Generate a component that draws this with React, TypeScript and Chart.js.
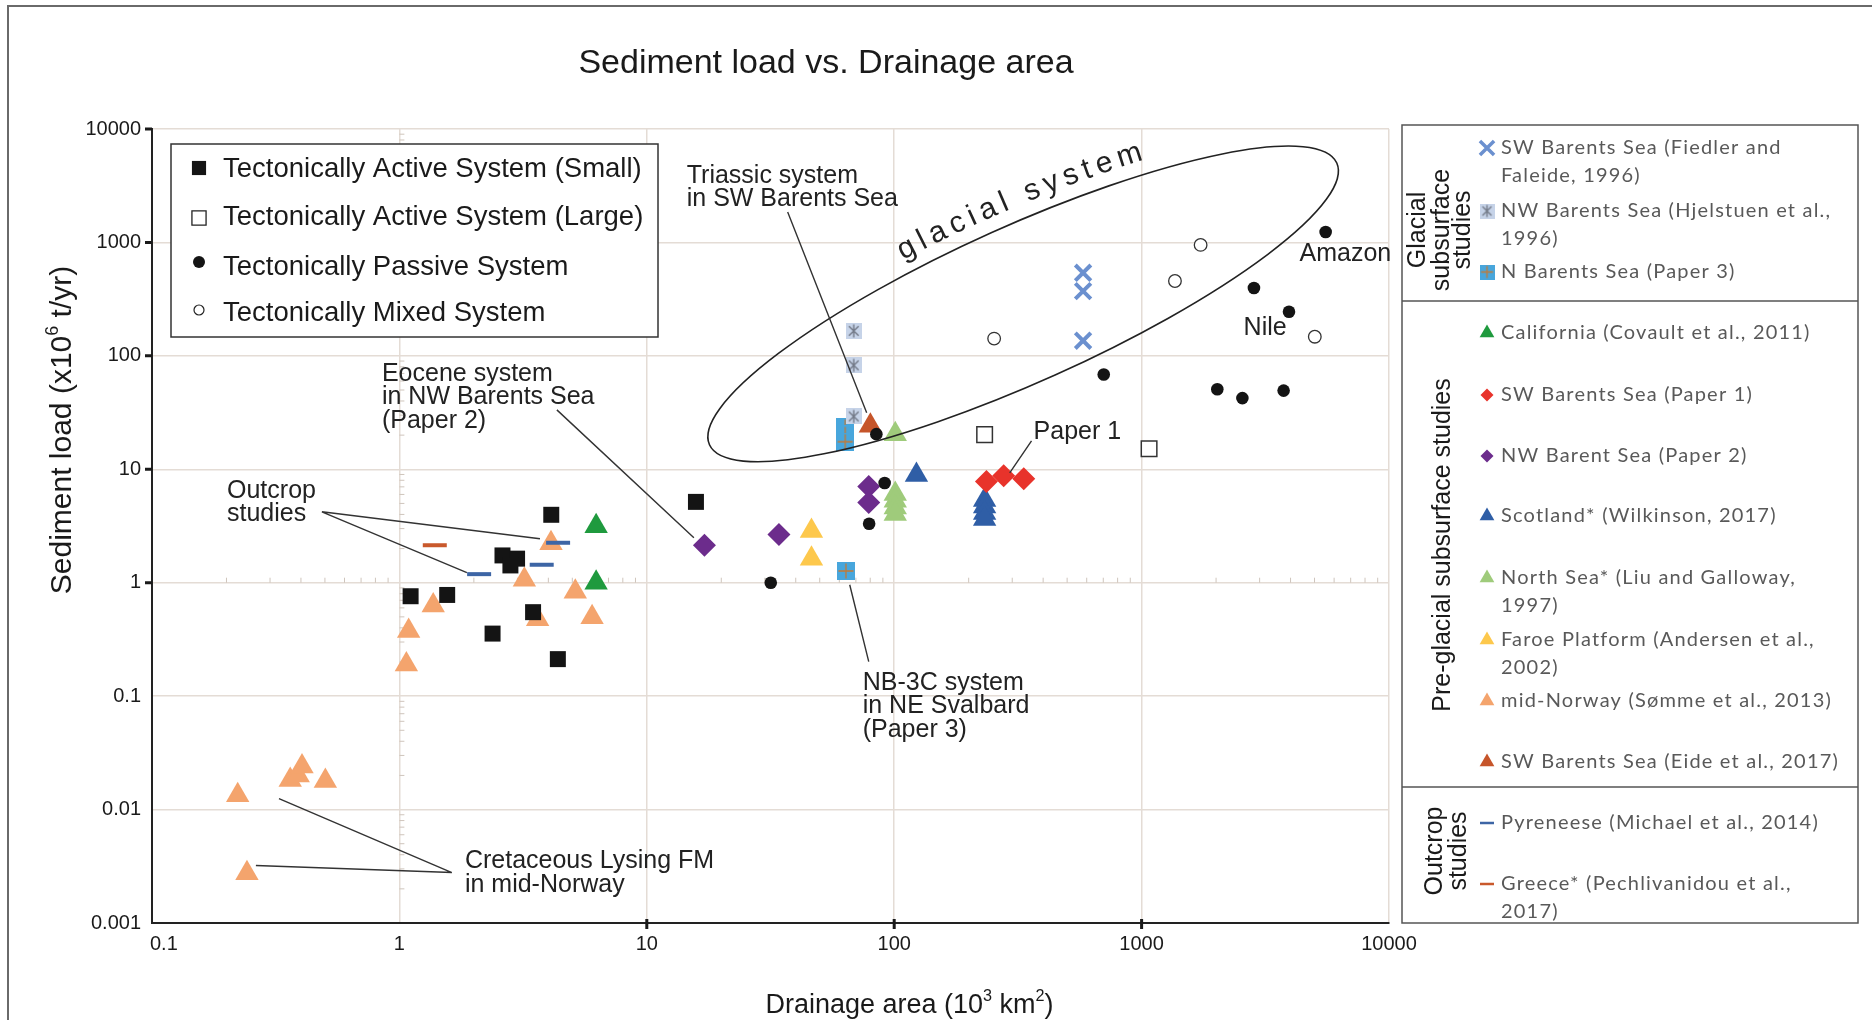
import React, { useEffect, useRef } from 'react';
import { Chart, registerables } from 'chart.js';
import { drawPoint } from 'chart.js/helpers';

Chart.register(...registerables);

type Pt = [number, number];

// ---------------- axis ticks ----------------
const xTickValues = [0.1, 1, 10, 100, 1000, 10000];
const xTickLabels = ['0.1', '1', '10', '100', '1000', '10000'];
const yTickValues = [0.001, 0.01, 0.1, 1, 10, 100, 1000, 10000];
const yTickLabels = ['0.001', '0.01', '0.1', '1', '10', '100', '1000', '10000'];
const xMarkedTicks = [10, 100, 1000];
const yMarkedTicks = [1, 10, 100, 1000, 10000];
const minorSteps = [2, 3, 4, 5, 6, 7, 8, 9];

// ---------------- data (drainage area 10^3 km2, sediment load 10^6 t/yr) ----------------
const activeSmall: Pt[] = [[1.11, 0.76], [1.56, 0.78], [2.61, 1.74], [2.99, 1.63], [2.81, 1.42], [4.11, 3.97], [3.47, 0.55], [2.38, 0.356], [4.37, 0.212], [15.8, 5.16]];
const activeLarge: Pt[] = [[232, 20.2], [1072, 15.2]];
const passive: Pt[] = [[31.7, 1.0], [79.2, 3.31], [91.5, 7.56], [84.7, 20.4], [703, 68.5], [2023, 50.8], [2555, 42.4], [3750, 49.4], [2845, 397], [3942, 245], [5545, 1236]];
const mixed: Pt[] = [[253.5, 142], [1364, 457], [1732, 951], [5013, 147.5]];
const fiedler: Pt[] = [[580, 540], [580, 372], [580, 136]];
const hjelstuen: Pt[] = [[68.6, 166], [68.6, 82.5], [68.6, 29.2]];
const nBarents: Pt[] = [[63.4, 23.6], [63.4, 20.3], [63.4, 17.5], [63.8, 1.27]];
const california: Pt[] = [[6.24, 3.15], [6.24, 1.0]];
const swPaper1: Pt[] = [[236, 7.81], [277, 8.76], [334, 8.25]];
const nwPaper2: Pt[] = [[17.1, 2.14], [34.2, 2.66], [78.9, 7.06], [78.9, 5.1]];
const scotland: Pt[] = [[123, 8.89], [232, 5.35], [232, 4.7], [232, 4.11], [232, 3.64]];
const northSea: Pt[] = [[101, 20.4], [101, 6.05], [101, 5.28], [101, 4.61], [101, 4.03]];
const faroe: Pt[] = [[46.3, 2.85], [46.3, 1.63]];
const midNorway: Pt[] = [[1.09, 0.376], [1.067, 0.19], [1.37, 0.63], [3.2, 1.06], [4.1, 2.23], [3.62, 0.476], [5.14, 0.834], [6.01, 0.496], [0.222, 0.0134], [0.242, 0.00274], [0.362, 0.0182], [0.39, 0.020], [0.404, 0.024], [0.502, 0.0179]];
const eide: Pt[] = [[80.1, 24.2]];
const pyrenees: Pt[] = [[2.1, 1.19], [3.76, 1.44], [4.38, 2.25]];
const greece: Pt[] = [[1.39, 2.14]];

// ---------------- texts ----------------
const chartTitle = 'Sediment load vs. Drainage area';
const xTitleParts = [{ t: 'Drainage area (10' }, { t: '3', sup: true }, { t: ' km' }, { t: '2', sup: true }, { t: ')' }];
const yTitleParts = [{ t: 'Sediment load (x10' }, { t: '6', sup: true }, { t: ' t/yr)' }];

const leftLegendLabels = [
  'Tectonically Active System (Small)',
  'Tectonically Active System (Large)',
  'Tectonically Passive System',
  'Tectonically Mixed System',
];
const leftLegendKeys = ['activeSmall', 'activeLarge', 'passive', 'mixed'];

const rightLegendItems: { key: string; lines: string[] }[] = [
  { key: 'fiedler', lines: ['SW Barents Sea (Fiedler and', 'Faleide, 1996)'] },
  { key: 'hjelstuen', lines: ['NW Barents Sea (Hjelstuen et al.,', '1996)'] },
  { key: 'nBarents', lines: ['N Barents Sea (Paper 3)'] },
  { key: 'california', lines: ['California (Covault et al., 2011)'] },
  { key: 'swPaper1', lines: ['SW Barents Sea (Paper 1)'] },
  { key: 'nwPaper2', lines: ['NW Barent Sea (Paper 2)'] },
  { key: 'scotland', lines: ['Scotland* (Wilkinson, 2017)'] },
  { key: 'northSea', lines: ['North Sea* (Liu and Galloway,', '1997)'] },
  { key: 'faroe', lines: ['Faroe Platform (Andersen et al.,', '2002)'] },
  { key: 'midNorway', lines: ['mid-Norway (Sømme et al., 2013)'] },
  { key: 'eide', lines: ['SW Barents Sea (Eide et al., 2017)'] },
  { key: 'pyrenees', lines: ['Pyreneese (Michael et al., 2014)'] },
  { key: 'greece', lines: ['Greece* (Pechlivanidou et al.,', '2017)'] },
];
const rightGroupLabels: { lines: string[] }[] = [
  { lines: ['Glacial', 'subsurface', 'studies'] },
  { lines: ['Pre-glacial subsurface studies'] },
  { lines: ['Outcrop', 'studies'] },
];

// annotations anchored in data coordinates (left edge, middle of first line)
const notes: { lines: string[]; at: Pt }[] = [
  { lines: ['Triassic system', 'in SW Barents Sea'], at: [14.5, 3855] },
  { lines: ['Eocene system', 'in NW Barents Sea', '(Paper 2)'], at: [0.85, 69.4] },
  { lines: ['Outcrop', 'studies'], at: [0.201, 6.47] },
  { lines: ['NB-3C system', 'in NE Svalbard', '(Paper 3)'], at: [74.6, 0.1315] },
  { lines: ['Paper 1'], at: [366, 21.4] },
  { lines: ['Amazon'], at: [4348, 792] },
  { lines: ['Nile'], at: [2584, 176] },
  { lines: ['Cretaceous Lysing FM', 'in mid-Norway'], at: [1.84, 0.00348] },
];
const leaders: [Pt, Pt][] = [
  [[37.1, 1856], [77.4, 31.5]],
  [[4.33, 33.4], [15.5, 2.49]],
  [[0.486, 4.22], [1.874, 1.225]],
  [[0.486, 4.22], [3.70, 2.44]],
  [[66.1, 0.96], [78.9, 0.2014]],
  [[359, 17.8], [293, 9.31]],
  [[1.63, 0.002786], [0.326, 0.0125]],
  [[1.63, 0.002786], [0.263, 0.00321]],
];
const glacialEllipseTips: [Pt, Pt] = [[17.92, 16.44], [6152, 5016]];
const glacialLabel = 'glacial system';

// ---------------- layout / styles ----------------
const W = 1872;
const H = 1020;
const ARIAL = "'Liberation Sans', Arial, sans-serif";
const CALIBRI = "Lato, 'Noto Sans', sans-serif";
const GRID = '#e4dcd5';

type MStyle = { style: any; r: number; fill: string; stroke: string; bw: number };

function makeAsteriskSquare(size: number, bg: string, fg: string) {
  const c = document.createElement('canvas');
  c.width = size;
  c.height = size;
  const g = c.getContext('2d')!;
  g.fillStyle = bg;
  g.fillRect(0, 0, size, size);
  g.strokeStyle = fg;
  g.lineWidth = 1.4;
  const m = size * 0.2;
  g.beginPath();
  g.moveTo(m, m);
  g.lineTo(size - m, size - m);
  g.moveTo(size - m, m);
  g.lineTo(m, size - m);
  g.moveTo(size / 2, m * 0.5);
  g.lineTo(size / 2, size - m * 0.5);
  g.stroke();
  return c;
}

function makePlusSquare(size: number, bg: string, fg: string) {
  const c = document.createElement('canvas');
  c.width = size;
  c.height = size;
  const g = c.getContext('2d')!;
  g.fillStyle = bg;
  g.fillRect(0, 0, size, size);
  g.strokeStyle = fg;
  g.lineWidth = 1.3;
  g.beginPath();
  g.moveTo(size / 2, 1.5);
  g.lineTo(size / 2, size - 1.5);
  g.moveTo(1.5, size / 2);
  g.lineTo(size - 1.5, size / 2);
  g.stroke();
  return c;
}

type Part = { t: string; sup?: boolean };
function drawRich(ctx: CanvasRenderingContext2D, parts: Part[], cx: number, cy: number, size: number) {
  let w = 0;
  for (const p of parts) {
    ctx.font = `${p.sup ? size * 0.6 : size}px ${ARIAL}`;
    w += ctx.measureText(p.t).width;
  }
  let x = cx - w / 2;
  const base = cy + size * 0.36;
  ctx.textAlign = 'left';
  ctx.textBaseline = 'alphabetic';
  for (const p of parts) {
    ctx.font = `${p.sup ? size * 0.6 : size}px ${ARIAL}`;
    ctx.fillText(p.t, x, p.sup ? base - size * 0.42 : base);
    x += ctx.measureText(p.t).width;
  }
}

function mark(ctx: CanvasRenderingContext2D, m: MStyle, x: number, y: number) {
  ctx.save();
  ctx.fillStyle = m.fill;
  ctx.strokeStyle = m.stroke;
  ctx.lineWidth = m.bw;
  if (m.style && typeof m.style === 'object') {
    const s = m.r * 2;
    ctx.drawImage(m.style, x - s / 2, y - s / 2, s, s);
  } else {
    drawPoint(ctx, { pointStyle: m.style, radius: m.r, borderWidth: m.bw, rotation: 0 } as any, x, y);
  }
  ctx.restore();
}

export default function App() {
  const ref = useRef<HTMLCanvasElement>(null);

  useEffect(() => {
    const canvas = ref.current!;
    const asterisk = makeAsteriskSquare(16, '#c6d3e8', '#737a88');
    const plusSq = makePlusSquare(18, '#48a6dc', '#c27a36');
    const asteriskSmall = makeAsteriskSquare(15, '#c6d3e8', '#737a88');
    const plusSmall = makePlusSquare(15, '#48a6dc', '#c27a36');

    const plotStyles: Record<string, MStyle> = {
      activeSmall: { style: 'rect', r: 11.3, fill: '#141414', stroke: '#141414', bw: 0 },
      activeLarge: { style: 'rect', r: 11, fill: '#ffffff', stroke: '#333333', bw: 1.5 },
      passive: { style: 'circle', r: 6.3, fill: '#141414', stroke: '#141414', bw: 0 },
      mixed: { style: 'circle', r: 6.3, fill: '#ffffff', stroke: '#333333', bw: 1.3 },
      fiedler: { style: 'crossRot', r: 11, fill: '#6b90cf', stroke: '#6b90cf', bw: 4 },
      hjelstuen: { style: asterisk, r: 8, fill: '#c6d3e8', stroke: '#737a88', bw: 0 },
      nBarents: { style: plusSq, r: 9, fill: '#48a6dc', stroke: '#c27a36', bw: 0 },
      california: { style: 'triangle', r: 13.5, fill: '#1f9a3e', stroke: '#1f9a3e', bw: 0 },
      swPaper1: { style: 'rectRot', r: 11.5, fill: '#e8332b', stroke: '#e8332b', bw: 0 },
      nwPaper2: { style: 'rectRot', r: 11.5, fill: '#6c2c8c', stroke: '#6c2c8c', bw: 0 },
      scotland: { style: 'triangle', r: 13.5, fill: '#2f5ea6', stroke: '#2f5ea6', bw: 0 },
      northSea: { style: 'triangle', r: 13.5, fill: '#9fcb7b', stroke: '#9fcb7b', bw: 0 },
      faroe: { style: 'triangle', r: 13.5, fill: '#fdc84c', stroke: '#fdc84c', bw: 0 },
      midNorway: { style: 'triangle', r: 13.5, fill: '#f4a46d', stroke: '#f4a46d', bw: 0 },
      eide: { style: 'triangle', r: 13.5, fill: '#c6552a', stroke: '#c6552a', bw: 0 },
      pyrenees: { style: 'line', r: 12, fill: '#3d65a5', stroke: '#3d65a5', bw: 4 },
      greece: { style: 'line', r: 12, fill: '#c9592c', stroke: '#c9592c', bw: 4 },
    };
    const leftLegendStyles: Record<string, MStyle> = {
      activeSmall: { style: 'rect', r: 10, fill: '#141414', stroke: '#141414', bw: 0 },
      activeLarge: { style: 'rect', r: 10, fill: '#ffffff', stroke: '#222222', bw: 1.3 },
      passive: { style: 'circle', r: 6, fill: '#141414', stroke: '#141414', bw: 0 },
      mixed: { style: 'circle', r: 5, fill: '#ffffff', stroke: '#222222', bw: 1.2 },
    };
    const rightLegendStyles: Record<string, MStyle> = {
      fiedler: { style: 'crossRot', r: 10, fill: '#6b90cf', stroke: '#6b90cf', bw: 3.5 },
      hjelstuen: { style: asteriskSmall, r: 7.5, fill: '', stroke: '', bw: 0 },
      nBarents: { style: plusSmall, r: 7.5, fill: '', stroke: '', bw: 0 },
      california: { style: 'triangle', r: 8.5, fill: '#1f9a3e', stroke: '', bw: 0 },
      swPaper1: { style: 'rectRot', r: 6.5, fill: '#e8332b', stroke: '', bw: 0 },
      nwPaper2: { style: 'rectRot', r: 6.5, fill: '#6c2c8c', stroke: '', bw: 0 },
      scotland: { style: 'triangle', r: 8.5, fill: '#2f5ea6', stroke: '', bw: 0 },
      northSea: { style: 'triangle', r: 8.5, fill: '#9fcb7b', stroke: '', bw: 0 },
      faroe: { style: 'triangle', r: 8.5, fill: '#fdc84c', stroke: '', bw: 0 },
      midNorway: { style: 'triangle', r: 8.5, fill: '#f4a46d', stroke: '', bw: 0 },
      eide: { style: 'triangle', r: 8.5, fill: '#c6552a', stroke: '', bw: 0 },
      pyrenees: { style: 'line', r: 7, fill: '#3d65a5', stroke: '#3d65a5', bw: 2.5 },
      greece: { style: 'line', r: 7, fill: '#c9592c', stroke: '#c9592c', bw: 2.5 },
    };

    // first dataset is drawn on top
    const seriesOrder: [string, Pt[]][] = [
      ['pyrenees', pyrenees],
      ['greece', greece],
      ['activeSmall', activeSmall],
      ['activeLarge', activeLarge],
      ['passive', passive],
      ['mixed', mixed],
      ['fiedler', fiedler],
      ['hjelstuen', hjelstuen],
      ['eide', eide],
      ['nBarents', nBarents],
      ['swPaper1', swPaper1],
      ['nwPaper2', nwPaper2],
      ['scotland', scotland],
      ['faroe', faroe],
      ['northSea', northSea],
      ['california', california],
      ['midNorway', midNorway],
    ];

    const datasets = seriesOrder.map(([key, pts]) => {
      const s = plotStyles[key];
      return {
        label: key,
        data: pts.map(([x, y]) => ({ x, y })),
        pointStyle: s.style,
        pointRadius: s.r,
        pointHoverRadius: s.r,
        pointBackgroundColor: s.fill,
        pointBorderColor: s.stroke,
        pointBorderWidth: s.bw,
        showLine: false,
        clip: false as any,
      };
    });

    const decor = {
      id: 'decor',
      beforeDraw(chart: any) {
        const ctx: CanvasRenderingContext2D = chart.ctx;
        ctx.save();
        ctx.fillStyle = '#ffffff';
        ctx.fillRect(0, 0, chart.width, chart.height);
        ctx.restore();
      },
      beforeDatasetsDraw(chart: any) {
        const ctx: CanvasRenderingContext2D = chart.ctx;
        const xs = chart.scales.x;
        const ys = chart.scales.y;
        const px1 = xs.getPixelForValue(1);
        const py1 = ys.getPixelForValue(1);
        ctx.save();
        ctx.strokeStyle = '#cfc5bc';
        ctx.lineWidth = 1;
        ctx.beginPath();
        for (let d = 0; d < xTickValues.length - 1; d++) {
          for (const k of minorSteps) {
            const x = xs.getPixelForValue(xTickValues[d] * k);
            ctx.moveTo(x, py1 - 5);
            ctx.lineTo(x, py1);
          }
        }
        for (let d = 0; d < yTickValues.length - 1; d++) {
          for (const k of minorSteps) {
            const y = ys.getPixelForValue(yTickValues[d] * k);
            ctx.moveTo(px1, y);
            ctx.lineTo(px1 + 5, y);
          }
        }
        ctx.stroke();
        ctx.restore();
      },
      afterDatasetsDraw(chart: any) {
        const ctx: CanvasRenderingContext2D = chart.ctx;
        const xs = chart.scales.x;
        const ys = chart.scales.y;
        const P = (p: Pt) => [xs.getPixelForValue(p[0]), ys.getPixelForValue(p[1])];
        ctx.save();
        // glacial ellipse
        const t1 = P(glacialEllipseTips[0]);
        const t2 = P(glacialEllipseTips[1]);
        const cx = (t1[0] + t2[0]) / 2;
        const cy = (t1[1] + t2[1]) / 2;
        const a = Math.hypot(t2[0] - t1[0], t2[1] - t1[1]) / 2;
        const b = 78;
        const th = Math.atan2(t2[1] - t1[1], t2[0] - t1[0]);
        ctx.strokeStyle = '#222';
        ctx.lineWidth = 1.6;
        ctx.beginPath();
        ctx.ellipse(cx, cy, a, b, th, 0, Math.PI * 2);
        ctx.stroke();

        // text along the ellipse
        ctx.fillStyle = '#222';
        ctx.font = `30px ${ARIAL}`;
        ctx.textAlign = 'center';
        ctx.textBaseline = 'alphabetic';
        const ux = Math.cos(th), uy = Math.sin(th), vx = uy, vy = -ux;
        const offset = 14;
        const Q = (t: number) => {
          const ex = cx + a * Math.cos(t) * ux + b * Math.sin(t) * vx;
          const ey = cy + a * Math.cos(t) * uy + b * Math.sin(t) * vy;
          let nx = b * Math.cos(t) * ux + a * Math.sin(t) * vx;
          let ny = b * Math.cos(t) * uy + a * Math.sin(t) * vy;
          const l = Math.hypot(nx, ny);
          nx /= l;
          ny /= l;
          return [ex + nx * offset, ey + ny * offset];
        };
        const dt = 0.0004;
        let t = 0.585 * Math.PI;
        let p = Q(t);
        let walked = 0;
        let cursor = 0;
        const spacing = 5.6;
        for (const ch of glacialLabel) {
          const w = ctx.measureText(ch).width;
          const target = cursor + w / 2;
          while (walked < target) {
            const nt = t - dt;
            const np = Q(nt);
            walked += Math.hypot(np[0] - p[0], np[1] - p[1]);
            t = nt;
            p = np;
          }
          const q = Q(t - dt);
          const ang = Math.atan2(q[1] - p[1], q[0] - p[0]);
          ctx.save();
          ctx.translate(p[0], p[1]);
          ctx.rotate(ang);
          ctx.fillText(ch, 0, 0);
          ctx.restore();
          cursor += w + spacing;
        }

        // leader lines
        ctx.strokeStyle = '#333';
        ctx.lineWidth = 1.4;
        ctx.beginPath();
        for (const [s, e] of leaders) {
          const ps = P(s);
          const pe = P(e);
          ctx.moveTo(ps[0], ps[1]);
          ctx.lineTo(pe[0], pe[1]);
        }
        ctx.stroke();

        // note texts
        ctx.fillStyle = '#222';
        ctx.font = `25px ${ARIAL}`;
        ctx.textAlign = 'left';
        ctx.textBaseline = 'middle';
        for (const n of notes) {
          const pp = P(n.at);
          n.lines.forEach((ln, i) => ctx.fillText(ln, pp[0], pp[1] + i * 23.5));
        }
        ctx.restore();
      },
      afterDraw(chart: any) {
        const ctx: CanvasRenderingContext2D = chart.ctx;
        const xs = chart.scales.x;
        const ys = chart.scales.y;
        const area = chart.chartArea;
        ctx.save();

        // outer frame
        ctx.strokeStyle = '#6a6a6a';
        ctx.lineWidth = 2;
        ctx.beginPath();
        ctx.moveTo(8, H + 2);
        ctx.lineTo(8, 6);
        ctx.lineTo(W + 2, 6);
        ctx.stroke();

        // title
        ctx.fillStyle = '#1a1a1a';
        ctx.font = `34px ${ARIAL}`;
        ctx.textAlign = 'center';
        ctx.textBaseline = 'middle';
        ctx.fillText(chartTitle, 826, 64);

        // major tick marks
        ctx.strokeStyle = '#1a1a1a';
        ctx.lineWidth = 3;
        ctx.beginPath();
        for (const v of yMarkedTicks) {
          const y = ys.getPixelForValue(v);
          ctx.moveTo(area.left - 7, y);
          ctx.lineTo(area.left, y);
        }
        for (const v of xMarkedTicks) {
          const x = xs.getPixelForValue(v);
          ctx.moveTo(x, area.bottom - 4);
          ctx.lineTo(x, area.bottom + 6);
        }
        ctx.stroke();

        // tick labels
        ctx.fillStyle = '#1a1a1a';
        ctx.font = `20px ${ARIAL}`;
        ctx.textBaseline = 'middle';
        ctx.textAlign = 'right';
        yTickValues.forEach((v, i) => ctx.fillText(yTickLabels[i], area.left - 11, ys.getPixelForValue(v)));
        ctx.textAlign = 'center';
        xTickValues.forEach((v, i) => {
          const w = ctx.measureText(xTickLabels[i]).width;
          const x = Math.max(xs.getPixelForValue(v), area.left - 2 + w / 2);
          ctx.fillText(xTickLabels[i], x, area.bottom + 21);
        });

        // axis titles
        ctx.fillStyle = '#1a1a1a';
        drawRich(ctx, xTitleParts, (area.left + area.right) / 2 + 139, 1003, 27);
        ctx.save();
        ctx.translate(60, 430);
        ctx.rotate(-Math.PI / 2);
        drawRich(ctx, yTitleParts, 0, 0, 30);
        ctx.restore();

        // left legend
        ctx.fillStyle = '#ffffff';
        ctx.fillRect(171, 144, 487, 193);
        ctx.strokeStyle = '#333';
        ctx.lineWidth = 1.5;
        ctx.strokeRect(171, 144, 487, 193);
        const llTextY = [169, 217, 267, 313];
        const llMarkY = [168, 218, 262, 310];
        ctx.font = `27.5px ${ARIAL}`;
        ctx.textAlign = 'left';
        ctx.textBaseline = 'middle';
        leftLegendLabels.forEach((lab, i) => {
          mark(ctx, leftLegendStyles[leftLegendKeys[i]], 199, llMarkY[i]);
          ctx.fillStyle = '#1a1a1a';
          ctx.fillText(lab, 223, llTextY[i]);
        });

        // right legend
        ctx.strokeStyle = '#555';
        ctx.lineWidth = 1.5;
        ctx.strokeRect(1402, 125, 456, 798);
        ctx.beginPath();
        ctx.moveTo(1402, 301);
        ctx.lineTo(1858, 301);
        ctx.moveTo(1402, 787);
        ctx.lineTo(1858, 787);
        ctx.stroke();
        const rlRows = [148, 211, 272, 333, 395, 456, 516, 578, 640, 701, 762, 823, 884];
        ctx.font = `20px ${CALIBRI}`;
        (ctx as any).letterSpacing = '1.2px';
        ctx.textAlign = 'left';
        ctx.textBaseline = 'middle';
        rightLegendItems.forEach((it, i) => {
          mark(ctx, rightLegendStyles[it.key], 1487, rlRows[i]);
          ctx.fillStyle = '#595959';
          it.lines.forEach((ln, j) => ctx.fillText(ln, 1501, rlRows[i] + j * 28));
        });
        (ctx as any).letterSpacing = '0px';

        // group labels (rotated)
        ctx.fillStyle = '#1a1a1a';
        ctx.font = `25px ${ARIAL}`;
        ctx.textAlign = 'center';
        ctx.textBaseline = 'middle';
        const groupPos: { xs: number[]; cy: number }[] = [
          { xs: [1418, 1442, 1463], cy: 230 },
          { xs: [1443], cy: 545 },
          { xs: [1435, 1459], cy: 851 },
        ];
        rightGroupLabels.forEach((g, i) => {
          g.lines.forEach((ln, j) => {
            ctx.save();
            ctx.translate(groupPos[i].xs[j], groupPos[i].cy);
            ctx.rotate(-Math.PI / 2);
            ctx.fillText(ln, 0, 0);
            ctx.restore();
          });
        });
        ctx.restore();
      },
    };

    const chart = new Chart(canvas, {
      type: 'scatter',
      data: { datasets: datasets as any },
      options: {
        animation: false,
        responsive: false,
        maintainAspectRatio: false,
        devicePixelRatio: 1,
        events: [],
        layout: { padding: { left: 0, right: 483, top: 129, bottom: 0 } },
        plugins: {
          legend: { display: false },
          tooltip: { enabled: false },
          title: { display: false },
        },
        scales: {
          x: {
            type: 'logarithmic',
            min: 0.1,
            max: 10000,
            position: 'bottom',
            afterBuildTicks: (s: any) => {
              s.ticks = xTickValues.map((v) => ({ value: v }));
            },
            afterFit: (s: any) => {
              s.height = 97;
            },
            ticks: { display: false },
            grid: { color: GRID, lineWidth: 1.5, drawTicks: false },
            border: { display: true, color: '#222', width: 2 },
          },
          y: {
            type: 'logarithmic',
            min: 0.001,
            max: 10000,
            position: 'left',
            afterBuildTicks: (s: any) => {
              s.ticks = yTickValues.map((v) => ({ value: v }));
            },
            afterFit: (s: any) => {
              s.width = 152;
            },
            ticks: { display: false },
            grid: { color: GRID, lineWidth: 1.5, drawTicks: false },
            border: { display: true, color: '#222', width: 2 },
          },
        },
      } as any,
      plugins: [decor as any],
    });
    return () => chart.destroy();
  }, []);

  return (
    <div style={{ position: 'absolute', left: 0, top: 0, width: W, height: H, background: '#fff' }}>
      <canvas ref={ref} width={W} height={H} style={{ display: 'block', width: W, height: H }} />
    </div>
  );
}
